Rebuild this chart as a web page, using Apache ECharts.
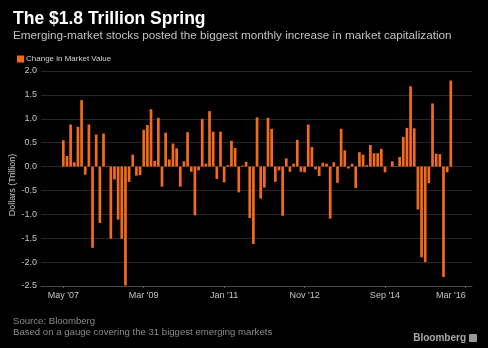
<!DOCTYPE html>
<html>
<head>
<meta charset="utf-8">
<script src="https://cdn.jsdelivr.net/npm/echarts@6/dist/echarts.min.js"></script>
<style>
  html, body { margin: 0; padding: 0; background: #000; }
  #chart { width: 488px; height: 348px; }
</style>
</head>
<body>
<div id="chart"></div>
<script>
// Monthly change in emerging-market capitalization, May 2007 .. Mar 2016 (USD trillion)
const values = [
  0.55, 0.22, 0.88, 0.09, 0.83, 1.39, -0.17, 0.88, -1.70, 0.67,
  -1.18, 0.69, 0.01, -1.51, -0.27, -1.11, -1.51, -2.49, -0.32, 0.25,
  -0.19, -0.18, 0.77, 0.87, 1.20, 0.12, 1.02, -0.42, 0.71, 0.15,
  0.48, 0.38, -0.42, 0.11, 0.72, -0.11, -1.02, -0.08, 1.00, 0.06,
  1.16, 0.73, -0.26, 0.73, -0.33, 0.03, 0.54, 0.39, -0.54, 0.02,
  0.10, -1.08, -1.62, 1.03, -0.67, -0.44, 1.02, 0.79, -0.32, -0.08,
  -1.03, 0.17, -0.11, 0.06, 0.56, -0.11, -0.12, 0.88, 0.41, -0.06,
  -0.20, 0.08, 0.06, -1.09, 0.09, -0.34, 0.79, 0.34, -0.04, 0.06,
  -0.45, 0.30, 0.25, 0.03, 0.45, 0.28, 0.28, 0.37, -0.12, 0.00,
  0.11, 0.01, 0.20, 0.62, 0.81, 1.68, 0.80, -0.90, -1.90, -2.00,
  -0.35, 1.32, 0.27, 0.26, -2.31, -0.12, 1.80
];

// Month offsets (from May 2007) that carry a date label
const tickIndex = [0, 22, 44, 66, 88, 106];
const tickLabels = ["May '07", "Mar '09", "Jan '11", "Nov '12", "Sep '14", "Mar '16"];
const tickMarks = [0, 22, 44, 66, 88, 110];

const yTicks = [2.0, 1.5, 1.0, 0.5, 0.0, -0.5, -1.0, -1.5, -2.0, -2.5];

const seriesName = 'Change in Market Value';
const orange = '#f26a1b';
const font = '"Liberation Sans", Arial, sans-serif';

const chart = echarts.init(document.getElementById('chart'), null, { renderer: 'canvas' });

chart.setOption({
  backgroundColor: '#000',
  animation: false,
  grid: { left: 41, right: 16, top: 71, bottom: 62 },
  legend: {
    left: 12, top: 50,
    icon: 'rect', itemWidth: 7, itemHeight: 7, itemGap: 4,
    textStyle: { color: '#d0d0d0', fontSize: 8, fontFamily: font, padding: [0, 0, 0, -3] },
    data: [seriesName]
  },
  xAxis: {
    type: 'value',
    min: -6.1, max: 111.8,
    axisLine: { onZero: false, lineStyle: { color: '#4a4a4a', width: 1 } },
    axisTick: { show: true, customValues: tickMarks, length: 2, lineStyle: { color: '#5a5a5a' } },
    axisLabel: {
      customValues: tickIndex,
      color: '#c4c4c4', fontSize: 9, fontFamily: font, margin: 5,
      formatter: v => tickLabels[tickIndex.indexOf(Math.round(v))] || ''
    },
    splitLine: { show: false }
  },
  yAxis: {
    type: 'value',
    min: -2.5, max: 2.0, interval: 0.5,
    axisLine: { show: false },
    axisTick: { show: false },
    axisLabel: {
      color: '#c4c4c4', fontSize: 9, fontFamily: font, margin: 4,
      formatter: v => yTicks.includes(v) ? v.toFixed(1) : ''
    },
    splitLine: { lineStyle: { color: '#262626', width: 1 } }
  },
  series: [{
    name: seriesName,
    type: 'bar',
    barWidth: 2.7,
    itemStyle: { color: orange },
    data: values.map((v, i) => [i, v])
  }],
  graphic: [
    { type: 'text', left: 13, top: 10,
      style: { text: 'The $1.8 Trillion Spring', fill: '#ffffff', font: 'bold 17.5px ' + font } },
    { type: 'text', left: 13, top: 30,
      style: { text: 'Emerging-market stocks posted the biggest monthly increase in market capitalization',
               fill: '#c0c0c0', font: '11.7px ' + font } },
    { type: 'text', x: 13, y: 185, rotation: Math.PI / 2,
      style: { text: 'Dollars (Trillion)', fill: '#c4c4c4', font: '9px ' + font,
               align: 'center', verticalAlign: 'middle' } },
    { type: 'text', left: 13, top: 316,
      style: { text: 'Source: Bloomberg', fill: '#8a8a8a', font: '9.6px ' + font } },
    { type: 'text', left: 13, top: 327,
      style: { text: 'Based on a gauge covering the 31 biggest emerging markets', fill: '#8a8a8a', font: '9.6px ' + font } },
    { type: 'text', right: 22, top: 333,
      style: { text: 'Bloomberg', fill: '#a8a8a8', font: 'bold 10px ' + font } },
    { type: 'rect', right: 11, top: 334, shape: { width: 8, height: 8, r: 1 },
      style: { fill: '#9a9a9a' } }
  ]
});
</script>
</body>
</html>
